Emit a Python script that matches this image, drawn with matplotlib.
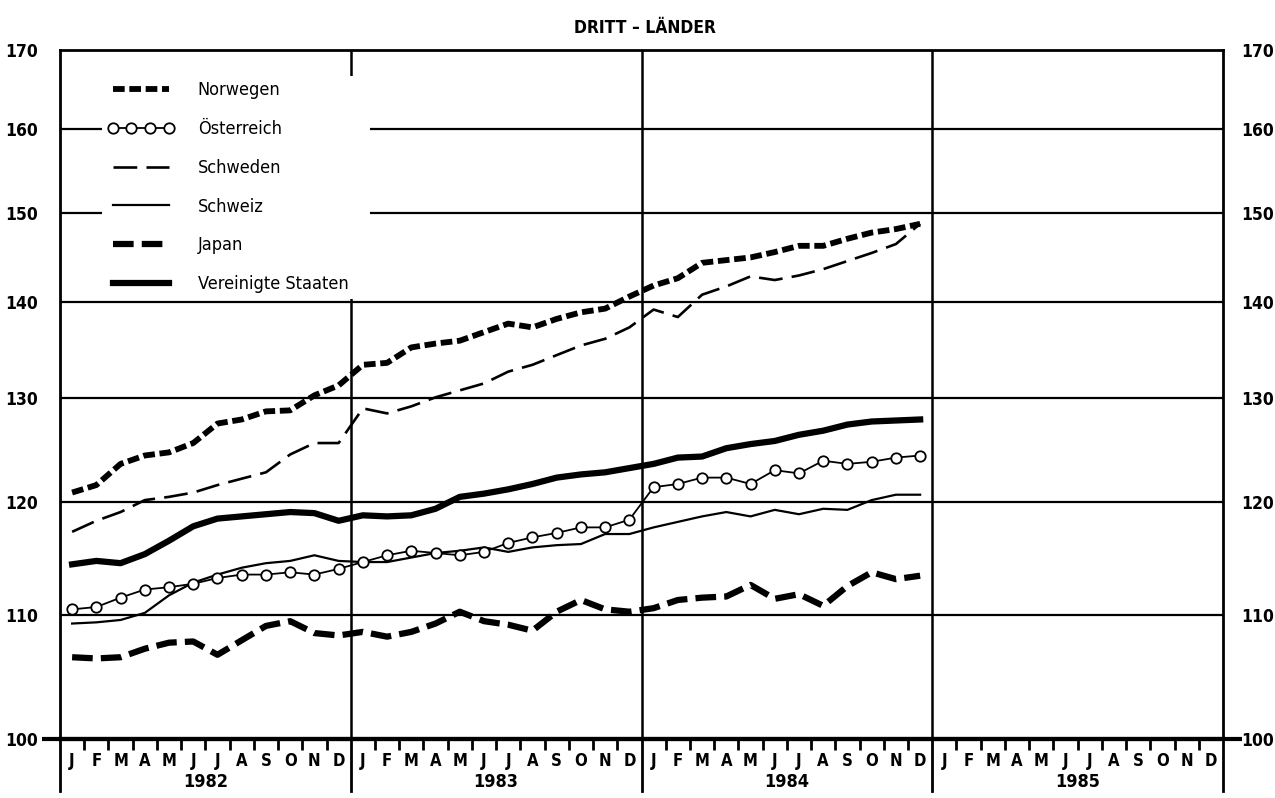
import numpy as np
import matplotlib
matplotlib.use("Agg")
import matplotlib.pyplot as plt
from matplotlib.ticker import FixedLocator

plt.rcParams['font.family'] = ['DejaVu Sans']
plt.rcParams['font.stretch'] = 'condensed'

# data (index values, monthly 1982-1984)
months = ["J", "F", "M", "A", "M", "J", "J", "A", "S", "O", "N", "D"]
years = ["1982", "1983", "1984", "1985"]
y_ticks = [100, 110, 120, 130, 140, 150, 160, 170]

norwegen = [120.9, 121.6, 123.6, 124.4, 124.7, 125.6, 127.5, 127.9, 128.7, 128.8, 130.3, 131.3,
            133.4, 133.6, 135.2, 135.6, 135.9, 136.8, 137.7, 137.3, 138.2, 138.9, 139.3, 140.6,
            141.8, 142.6, 144.3, 144.6, 144.9, 145.5, 146.2, 146.2, 147.0, 147.7, 148.1, 148.7]
oesterreich = [110.5, 110.7, 111.5, 112.2, 112.4, 112.7, 113.2, 113.5, 113.5, 113.7, 113.5, 114.0,
               114.6, 115.2, 115.6, 115.4, 115.2, 115.5, 116.3, 116.8, 117.2, 117.7, 117.7, 118.4,
               121.4, 121.7, 122.3, 122.3, 121.7, 123.0, 122.7, 123.9, 123.6, 123.8, 124.2, 124.4]
schweden = [117.3, 118.3, 119.1, 120.2, 120.5, 120.9, 121.6, 122.2, 122.8, 124.5, 125.6, 125.6,
            129.0, 128.5, 129.2, 130.1, 130.8, 131.5, 132.7, 133.4, 134.4, 135.4, 136.1, 137.3,
            139.2, 138.4, 140.8, 141.7, 142.8, 142.4, 142.9, 143.6, 144.5, 145.4, 146.4, 148.7]
schweiz = [109.3, 109.4, 109.6, 110.2, 111.7, 112.8, 113.5, 114.1, 114.5, 114.7, 115.2, 114.7,
           114.6, 114.6, 115.0, 115.4, 115.6, 115.9, 115.5, 115.9, 116.1, 116.2, 117.1, 117.1,
           117.7, 118.2, 118.7, 119.1, 118.7, 119.3, 118.9, 119.4, 119.3, 120.2, 120.7, 120.7]
japan = [106.5, 106.4, 106.5, 107.2, 107.7, 107.8, 106.7, 107.9, 109.1, 109.5, 108.5, 108.3,
         108.6, 108.2, 108.6, 109.3, 110.3, 109.5, 109.2, 108.7, 110.3, 111.3, 110.5, 110.3,
         110.6, 111.3, 111.5, 111.6, 112.6, 111.4, 111.8, 110.8, 112.5, 113.7, 113.1, 113.4]
usa = [114.4, 114.7, 114.5, 115.3, 116.5, 117.8, 118.5, 118.7, 118.9, 119.1, 119.0, 118.3,
       118.8, 118.7, 118.8, 119.4, 120.5, 120.8, 121.2, 121.7, 122.3, 122.6, 122.8, 123.2,
       123.6, 124.2, 124.3, 125.1, 125.5, 125.8, 126.4, 126.8, 127.4, 127.7, 127.8, 127.9]

x = np.arange(len(norwegen)) + 0.5
n_months = 12 * len(years)

fig = plt.figure(figsize=(12.75, 7.98), dpi=100)
ax = fig.add_axes([60 / 1275, 1 - 739 / 798, 1163 / 1275, 689 / 798])
ax.set_yscale('log')
ax.set_ylim(100, 170)
ax.set_xlim(0, n_months)

# grid and year separators
for v in y_ticks[1:-1]:
    ax.axhline(v, color='black', lw=1.6, zorder=1)
for k in range(1, len(years)):
    ax.axvline(12 * k, color='black', lw=1.8, zorder=1)

# vertical separators below the axis
xt = ax.get_xaxis_transform()
for k in range(len(years) + 1):
    ax.plot([12 * k, 12 * k], [-0.075, 0], transform=xt, color='black', lw=2, clip_on=False)
# the 100 line reaching out to both labels
ax.plot([-0.75, n_months + 0.8], [100, 100], color='black', lw=3, clip_on=False, zorder=6,
        solid_capstyle='butt')

ax.plot(x, norwegen, color='black', lw=4.2, ls=(0, (2.0, 0.8)), label='Norwegen', zorder=3)
ax.plot(x, oesterreich, color='black', lw=1.3, marker='o', ms=7.5, mfc='white', mec='black',
        mew=1.3, label='Österreich', zorder=4)
ax.plot(x, schweden, color='black', lw=1.9, ls=(0, (9, 3.5)), label='Schweden', zorder=3)
ax.plot(x, schweiz, color='black', lw=1.6, label='Schweiz', zorder=3)
ax.plot(x, japan, color='black', lw=4.5, ls=(0, (3.3, 1.3)), label='Japan', zorder=3)
ax.plot(x, usa, color='black', lw=4.5, label='Vereinigte Staaten', zorder=3)

for s in ['left', 'right', 'top']:
    ax.spines[s].set_linewidth(2)
ax.spines['bottom'].set_linewidth(3)

# left y axis
ax.yaxis.set_major_locator(FixedLocator(y_ticks))
ax.yaxis.set_minor_locator(FixedLocator([]))
ax.set_yticklabels([str(v) for v in y_ticks])
ax.tick_params(axis='y', which='major', length=0, pad=16, labelsize=12.5)
for lbl in ax.get_yticklabels():
    lbl.set_fontweight('bold')

# right y axis, same scale
ax2 = ax.twinx()
ax2.set_yscale('log')
ax2.set_ylim(100, 170)
ax2.yaxis.set_major_locator(FixedLocator(y_ticks))
ax2.yaxis.set_minor_locator(FixedLocator([]))
ax2.set_yticklabels([str(v) for v in y_ticks])
ax2.tick_params(axis='y', which='major', length=0, pad=13, labelsize=12.5)
for lbl in ax2.get_yticklabels():
    lbl.set_fontweight('bold')
for s in ax2.spines.values():
    s.set_visible(False)

# month letters and ticks
ax.xaxis.set_major_locator(FixedLocator(np.arange(n_months) + 0.5))
ax.set_xticklabels(months * len(years))
ax.xaxis.set_minor_locator(FixedLocator([i for i in range(1, n_months) if i % 12]))
ax.tick_params(axis='x', which='major', length=0, pad=9, labelsize=12)
ax.tick_params(axis='x', which='minor', length=8, width=2, direction='out')
for lbl in ax.get_xticklabels():
    lbl.set_fontweight('bold')

for k, yr in enumerate(years):
    ax.text(12 * k + 6, -0.063, yr, transform=xt, ha='center', va='center',
            fontsize=13, fontweight='bold')

fig.text(645 / 1275, 1 - 28 / 798, 'DRITT – LÄNDER', ha='center', va='center',
         fontsize=12.5, fontweight='bold')

leg_top = 1 - 26 / 689
leg = ax2.legend(*ax.get_legend_handles_labels(),
                 loc='upper left', bbox_to_anchor=(42 / 1163, leg_top - 0.3, 268 / 1163, 0.3),
                 mode='expand', borderaxespad=0, frameon=True, fancybox=False, framealpha=1,
                 facecolor='white', edgecolor='none', fontsize=13, numpoints=4,
                 handlelength=3.7, handletextpad=1.3, labelspacing=1.15, borderpad=0.3)
leg.set_zorder(5)

fig.savefig('out.png', dpi=100)
